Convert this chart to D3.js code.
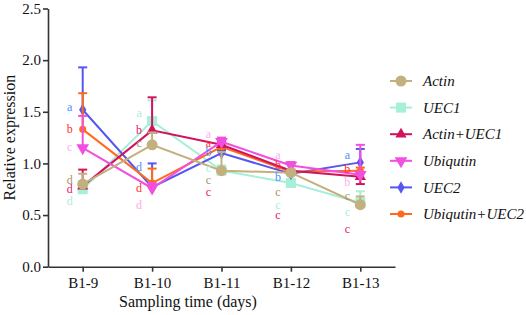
<!DOCTYPE html>
<html>
<head>
<meta charset="utf-8">
<script src="https://cdn.jsdelivr.net/npm/d3@7/dist/d3.min.js"></script>
<style>
  body { margin: 0; background: #fff; }
</style>
</head>
<body>
<div id="chart"></div>
<script>
// categories
const days = ["B1-9", "B1-10", "B1-11", "B1-12", "B1-13"];
const yTicks = [0, 0.5, 1.0, 1.5, 2.0, 2.5];

// series means
const actin        = [0.80, 1.18, 0.93, 0.91, 0.60];
const uec1         = [0.75, 1.41, 0.93, 0.81, 0.62];
const actinUec1    = [0.78, 1.32, 1.18, 0.93, 0.87];
const ubiqutin     = [1.15, 0.76, 1.21, 0.98, 0.89];
const uec2         = [1.52, 0.77, 1.10, 0.90, 1.01];
const ubiqutinUec2 = [1.33, 0.81, 1.16, 0.92, 0.93];

// error bars (one side)
const actinErr        = [0.10, 0.12, 0.18, 0.03, 0.08];
const uec1Err         = [0.05, 0.20, 0.05, 0.03, 0.11];
const actinUec1Err    = [0.16, 0.32, 0.03, 0.08, -0.07];
const ubiqutinErr     = [0.31, 0.05, 0.04, 0.03, 0.29];
const uec2Err         = [0.41, 0.23, 0.03, 0.03, 0.13];
const ubiqutinUec2Err = [0.35, 0.14, 0.03, 0.02, 0.03];

// significance letters: [letter, y position in data units] per day
const actinLetters        = [["d", 0.84], ["c", 1.20], ["c", 0.84], ["c", 0.73], ["c", 0.69]];
const uec1Letters         = [["d", 0.64], ["a", 1.49], ["c", 0.96], ["c", 0.60], ["c", 0.53]];
const actinUec1Letters    = [["d", 0.75], ["b", 1.33], ["c", 0.73], ["c", 0.50], ["c", 0.37]];
const ubiqutinLetters     = [["c", 1.16], ["d", 0.60], ["a", 1.29], ["a", 1.08], ["b", 0.82]];
const uec2Letters         = [["a", 1.55], ["d", 0.97], ["b", 1.11], ["b", 0.87], ["a", 1.08]];
const ubiqutinUec2Letters = [["b", 1.34], ["d", 0.76], ["a", 1.20], ["b", 0.99], ["b", 0.95]];

const series = [
  {name: "Actin", values: actin, err: actinErr, letters: actinLetters, color: "#c2b07e", letterColor: "#a8946a", shape: "circle"},
  {name: "UEC1", values: uec1, err: uec1Err, letters: uec1Letters, color: "#a6efd8", letterColor: "#a6efe0", shape: "square"},
  {name: "Actin+UEC1", values: actinUec1, err: actinUec1Err, letters: actinUec1Letters, color: "#d3125e", letterColor: "#e4206a", shape: "triangleUp"},
  {name: "Ubiqutin", values: ubiqutin, err: ubiqutinErr, letters: ubiqutinLetters, color: "#f24fe0", letterColor: "#ffaaf0", shape: "triangleDown"},
  {name: "UEC2", values: uec2, err: uec2Err, letters: uec2Letters, color: "#5656f0", letterColor: "#4f8cff", shape: "diamond"},
  {name: "Ubiqutin+UEC2", values: ubiqutinUec2, err: ubiqutinUec2Err, letters: ubiqutinUec2Letters, color: "#ff6a1a", letterColor: "#ff3030", shape: "smallCircle"}
];
const drawOrder = ["UEC1", "UEC2", "Ubiqutin+UEC2", "Actin+UEC1", "Ubiqutin", "Actin"];

const W = 526, H = 315;
const margin = {top: 8.5, left: 48, axisRight: 395, bottom: 266.7};

const svg = d3.select("#chart").append("svg")
  .attr("width", W).attr("height", H)
  .attr("font-family", "Liberation Serif");

const x = d3.scalePoint().domain(days)
  .range([margin.left, margin.axisRight]).padding(0.5);
const y = d3.scaleLinear().domain([0, 2.5])
  .range([margin.bottom, margin.top]);

// axes
const yAxis = svg.append("g")
  .attr("transform", `translate(${margin.left},0)`)
  .call(d3.axisLeft(y).tickValues(yTicks).tickFormat(d3.format(".1f")).tickSize(5).tickSizeOuter(0));
const xAxis = svg.append("g")
  .attr("transform", `translate(0,${margin.bottom})`)
  .call(d3.axisBottom(x).tickSize(5).tickSizeOuter(0));
[yAxis, xAxis].forEach(a => {
  a.attr("font-family", "Liberation Serif").attr("font-size", 15);
  a.select(".domain").attr("stroke", "#333").attr("stroke-width", 1.6);
  a.selectAll(".tick line").attr("stroke", "#333").attr("stroke-width", 1.6);
  a.selectAll(".tick text").attr("fill", "#111");
});
yAxis.selectAll(".tick text").attr("x", -7);
xAxis.selectAll(".tick text").attr("y", 11);

svg.append("text")
  .attr("transform", `translate(15,${(margin.top + margin.bottom) / 2}) rotate(-90)`)
  .attr("text-anchor", "middle")
  .attr("font-size", 16).attr("fill", "#111")
  .text("Relative expression");
svg.append("text")
  .attr("x", 188).attr("y", 307)
  .attr("text-anchor", "middle")
  .attr("font-size", 16).attr("fill", "#111")
  .text("Sampling time (days)");

function drawMarker(g, shape, color) {
  if (shape === "circle") g.append("circle").attr("r", 5.5).attr("fill", color);
  else if (shape === "smallCircle") g.append("circle").attr("r", 3.5).attr("fill", color);
  else if (shape === "square") g.append("rect").attr("x", -5).attr("y", -5).attr("width", 10).attr("height", 10).attr("fill", color);
  else if (shape === "triangleUp") g.append("path").attr("d", d3.symbol(d3.symbolTriangle, 55)()).attr("fill", color);
  else if (shape === "triangleDown") g.append("path").attr("d", d3.symbol(d3.symbolTriangle, 70)()).attr("transform", "rotate(180)").attr("fill", color);
  else if (shape === "diamond") g.append("path").attr("d", d3.symbol(d3.symbolDiamond, 45)()).attr("fill", color);
}

const line = d3.line().x((d, i) => x(days[i])).y(d => y(d));
const plot = svg.append("g");

drawOrder.forEach(nm => {
  const s = series.find(d => d.name === nm);
  const g = plot.append("g");
  // error bars
  s.values.forEach((v, i) => {
    const cx = x(days[i]);
    g.append("line").attr("x1", cx).attr("x2", cx)
      .attr("y1", y(v)).attr("y2", y(v + s.err[i]))
      .attr("stroke", s.color).attr("stroke-width", 2);
    g.append("line").attr("x1", cx - 4.5).attr("x2", cx + 4.5)
      .attr("y1", y(v + s.err[i])).attr("y2", y(v + s.err[i]))
      .attr("stroke", s.color).attr("stroke-width", 2);
  });
  g.append("path").datum(s.values)
    .attr("d", line).attr("fill", "none")
    .attr("stroke", s.color).attr("stroke-width", 2);
  s.values.forEach((v, i) => {
    drawMarker(g.append("g").attr("transform", `translate(${x(days[i])},${y(v)})`), s.shape, s.color);
  });
});

// letters
series.forEach(s => {
  s.letters.forEach((l, i) => {
    svg.append("text")
      .attr("x", x(days[i]) - 13).attr("y", y(l[1]))
      .attr("dy", "0.35em").attr("text-anchor", "middle")
      .attr("font-size", 12).attr("fill", s.letterColor)
      .text(l[0]);
  });
});

// legend
const legend = svg.append("g").attr("transform", "translate(390,81)");
series.forEach((s, i) => {
  const row = legend.append("g").attr("transform", `translate(0,${i * 26.6})`);
  row.append("line").attr("x1", 0).attr("x2", 22)
    .attr("stroke", s.color).attr("stroke-width", 2);
  drawMarker(row.append("g").attr("transform", "translate(11,0)"), s.shape, s.color);
  row.append("text").attr("x", 33).attr("dy", "0.35em")
    .attr("font-size", 15).attr("font-style", "italic").attr("fill", "#111")
    .text(s.name);
});
</script>
</body>
</html>
